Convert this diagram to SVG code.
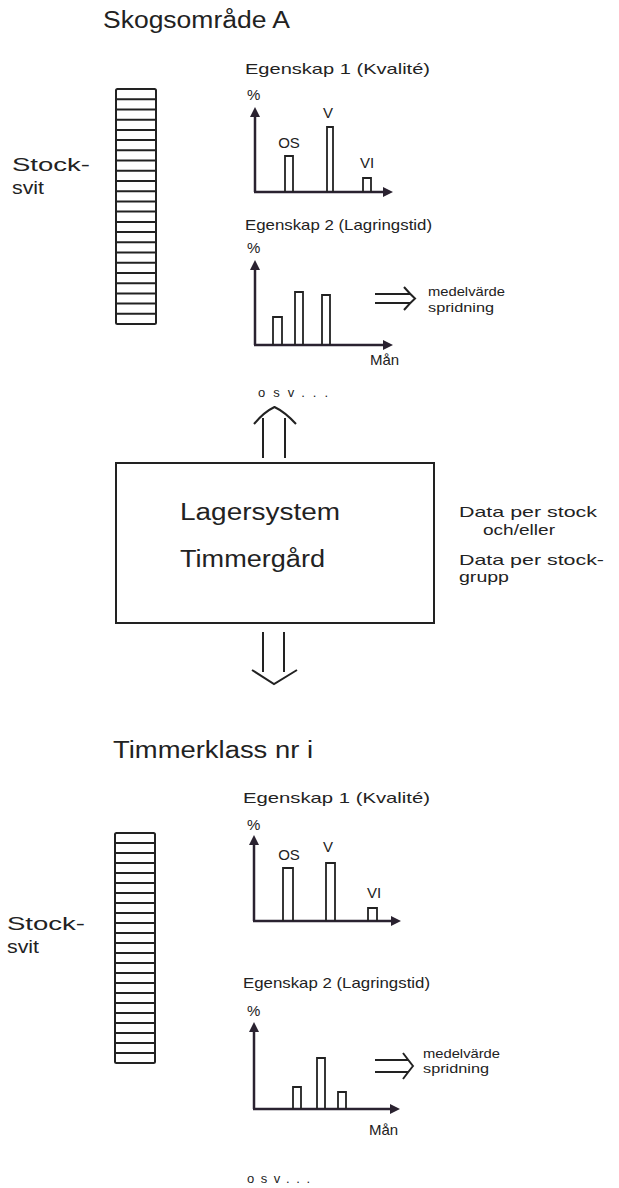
<svg xmlns="http://www.w3.org/2000/svg" width="619" height="1188" viewBox="0 0 619 1188">
<style>
text{font-family:"Liberation Sans","DejaVu Sans",sans-serif;fill:#222}
.t{font-size:23px}
.m{font-size:15px}
.s{font-size:13px}
.st{font-size:18px}
.ln{fill:none;stroke:#222;stroke-width:2}
.ax{fill:none;stroke:#2a2230;stroke-width:2.5}
.bar{fill:none;stroke:#222;stroke-width:1.8}
</style>
<defs>
<marker id="ah" viewBox="0 0 10 10" refX="5" refY="5" markerWidth="4" markerHeight="4" orient="auto">
<path d="M0,0 L10,5 L0,10 Z" fill="#2a2230"/>
</marker>
</defs>
<rect width="619" height="1188" fill="#fff"/>

<g id="title-top"><text class="t" x="103" y="28" textLength="187" lengthAdjust="spacingAndGlyphs">Skogsområde A</text></g>

<g id="stack-top">
<text class="st" x="12" y="171" textLength="78" lengthAdjust="spacingAndGlyphs">Stock-</text>
<text class="st" x="12" y="194" textLength="32" lengthAdjust="spacingAndGlyphs">svit</text>
<rect class="ln" x="116" y="89" width="40" height="235" rx="1.5"/>
<path class="ln" stroke-width="1.8" d="M116,99.2h40M116,109.4h40M116,119.7h40M116,129.9h40M116,140.1h40M116,150.3h40M116,160.5h40M116,170.8h40M116,181h40M116,191.2h40M116,201.4h40M116,211.6h40M116,221.9h40M116,232.1h40M116,242.3h40M116,252.5h40M116,262.7h40M116,273h40M116,283.2h40M116,293.4h40M116,303.6h40M116,313.8h40"/>
</g>

<g id="chart1-top">
<text class="m" x="245" y="74" textLength="185" lengthAdjust="spacingAndGlyphs">Egenskap 1 (Kvalité)</text>
<text class="m" x="247" y="100">%</text>
<path class="ax" d="M255,192 V112" marker-end="url(#ah)"/>
<path class="ax" d="M254,192 H388" marker-end="url(#ah)"/>
<path class="bar" d="M285,192 V156 H293 V192M327,192 V127 H333 V192M363,192 V178 H371 V192"/>
<text class="m" x="289" y="148" text-anchor="middle" font-size="16">OS</text>
<text class="m" x="328" y="118" text-anchor="middle" font-size="16">V</text>
<text class="m" x="367" y="168" text-anchor="middle" font-size="16">VI</text>
</g>

<g id="chart2-top">
<text class="m" x="245" y="230" textLength="187" lengthAdjust="spacingAndGlyphs">Egenskap 2 (Lagringstid)</text>
<text class="m" x="247" y="253">%</text>
<path class="ax" d="M255,345 V265" marker-end="url(#ah)"/>
<path class="ax" d="M254,345 H388" marker-end="url(#ah)"/>
<path class="bar" d="M273,345 V317 H282 V345M295,345 V292 H303 V345M322,345 V295 H330 V345"/>
<text class="m" x="370" y="365" font-size="14">Mån</text>
<path class="ln" stroke-width="1.6" d="M375,294 H410M375,303 H410M404,287 Q410,294 415,298.5 Q410,303 404,310"/>
<text class="s" x="428" y="296" textLength="77" lengthAdjust="spacingAndGlyphs">medelvärde</text>
<text class="s" x="428" y="312" textLength="66" lengthAdjust="spacingAndGlyphs">spridning</text>
</g>

<g id="osv-top"><text class="s" x="258" y="397" font-size="15" textLength="70" lengthAdjust="spacing">osv...</text></g>

<g id="lagersystem">
<rect class="ln" x="116" y="463" width="318" height="160"/>
<text class="t" x="180" y="520" textLength="160" lengthAdjust="spacingAndGlyphs">Lagersystem</text>
<text class="t" x="180" y="567" textLength="145" lengthAdjust="spacingAndGlyphs">Timmergård</text>
</g>

<g id="data-note">
<text class="m" x="459" y="517" font-size="14" textLength="138" lengthAdjust="spacingAndGlyphs">Data per stock</text>
<text class="m" x="483" y="535" font-size="14" textLength="72" lengthAdjust="spacingAndGlyphs">och/eller</text>
<text class="m" x="459" y="565" font-size="14" textLength="145" lengthAdjust="spacingAndGlyphs">Data per stock-</text>
<text class="m" x="459" y="582" font-size="14" textLength="50" lengthAdjust="spacingAndGlyphs">grupp</text>
</g>

<g id="connectors">
<path class="ln" d="M263,458 V418M285,458 V418M254,424 Q264,412 274.5,407 Q285,412 296,424"/>
<path class="ln" d="M263,632 V672M284,632 V672M252,670 L274,684 L297,670"/>
</g>

<g id="title-bottom"><text class="t" x="113" y="758" font-size="22" textLength="200" lengthAdjust="spacingAndGlyphs">Timmerklass nr i</text></g>

<g id="stack-bottom">
<text class="st" x="7" y="930" textLength="78" lengthAdjust="spacingAndGlyphs">Stock-</text>
<text class="st" x="7" y="953" textLength="32" lengthAdjust="spacingAndGlyphs">svit</text>
<rect class="ln" x="115" y="833" width="40" height="230" rx="1.5"/>
<path class="ln" stroke-width="1.8" d="M115,843h40M115,853h40M115,863h40M115,873h40M115,883h40M115,893h40M115,903h40M115,913h40M115,923h40M115,933h40M115,943h40M115,953h40M115,963h40M115,973h40M115,983h40M115,993h40M115,1003h40M115,1013h40M115,1023h40M115,1033h40M115,1043h40M115,1053h40"/>
</g>

<g id="chart1-bottom">
<text class="m" x="243" y="803" textLength="187" lengthAdjust="spacingAndGlyphs">Egenskap 1 (Kvalité)</text>
<text class="m" x="247" y="830">%</text>
<path class="ax" d="M254,921 V840" marker-end="url(#ah)"/>
<path class="ax" d="M253,921 H396" marker-end="url(#ah)"/>
<path class="bar" d="M283,921 V868 H293 V921M326,921 V863 H335 V921M368,921 V908 H377 V921"/>
<text class="m" x="289" y="860" text-anchor="middle" font-size="16">OS</text>
<text class="m" x="328" y="852" text-anchor="middle" font-size="16">V</text>
<text class="m" x="374" y="898" text-anchor="middle" font-size="16">VI</text>
</g>

<g id="chart2-bottom">
<text class="m" x="243" y="988" textLength="187" lengthAdjust="spacingAndGlyphs">Egenskap 2 (Lagringstid)</text>
<text class="m" x="247" y="1016">%</text>
<path class="ax" d="M254,1109 V1027" marker-end="url(#ah)"/>
<path class="ax" d="M253,1109 H395" marker-end="url(#ah)"/>
<path class="bar" d="M293,1109 V1087 H301 V1109M317,1109 V1058 H325 V1109M338,1109 V1092 H346 V1109"/>
<text class="m" x="369" y="1135" font-size="14">Mån</text>
<path class="ln" stroke-width="1.6" d="M375,1060 H408M375,1072 H408M403,1053 Q409,1061 413,1066 Q409,1071 403,1079"/>
<text class="s" x="423" y="1058" textLength="77" lengthAdjust="spacingAndGlyphs">medelvärde</text>
<text class="s" x="423" y="1073" textLength="66" lengthAdjust="spacingAndGlyphs">spridning</text>
</g>

<g id="osv-bottom"><text class="s" x="247" y="1183" font-size="14" textLength="63" lengthAdjust="spacing">osv...</text></g>
</svg>
